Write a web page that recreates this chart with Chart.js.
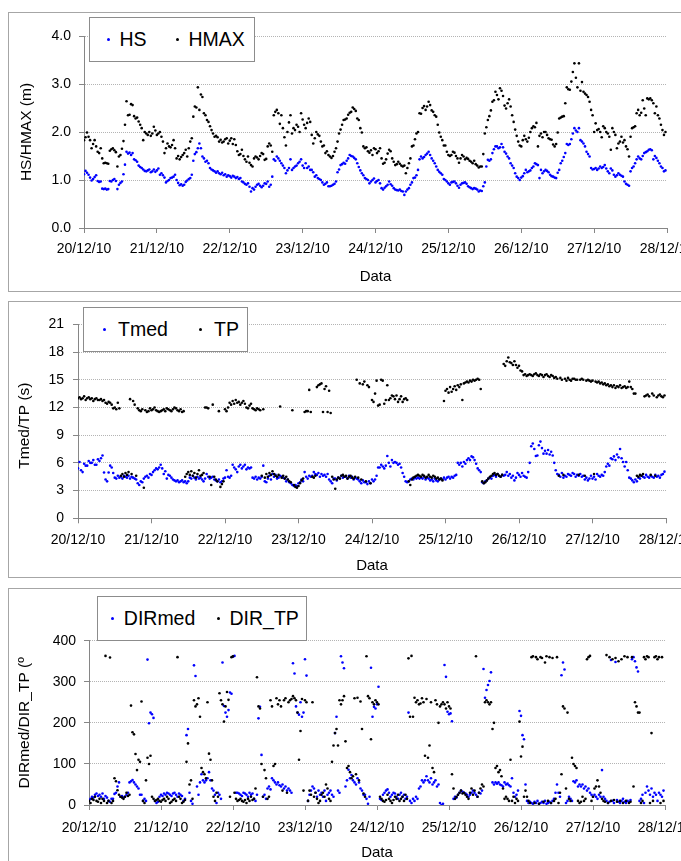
<!DOCTYPE html>
<html>
<head>
<meta charset="utf-8">
<script src="https://cdn.jsdelivr.net/npm/chart.js@4.4.1/dist/chart.umd.min.js"></script>
<style>
  html, body { margin: 0; padding: 0; overflow: hidden; background: #fff; width: 681px; height: 861px; }
  .panel { position: absolute; left: 8px; width: 720px; border: 1px solid #a6a6a6; box-sizing: border-box; }
  canvas { position: absolute; left: 0; z-index: 1; }
  .legend { position: absolute; background: #fff; border: 1px solid #8c8c8c; box-sizing: border-box;
            font: 19.5px "Liberation Sans", Arial, sans-serif; color: #000; z-index: 2; }
  .legend .dot { position: absolute; width: 3px; height: 3px; border-radius: 50%; top: 50%; margin-top: -1.5px; }
  .legend .lab { position: absolute; top: 50%; transform: translateY(-50%); line-height: 1; white-space: nowrap; }
</style>
</head>
<body>
<div class="panel" style="top:12px;height:280px"></div>
<div class="panel" style="top:301px;height:277px"></div>
<div class="panel" style="top:588px;height:300px"></div>

<canvas id="c1" width="720" height="277" style="top:13px"></canvas>
<canvas id="c2" width="720" height="276" style="top:302px"></canvas>
<canvas id="c3" width="720" height="275" style="top:589px"></canvas>

<div class="legend" style="left:89px;top:17px;width:166px;height:45px">
  <span class="dot" style="left:16.5px;background:#0000ff"></span><span class="lab" style="left:29.5px">HS</span>
  <span class="dot" style="left:85.5px;background:#000"></span><span class="lab" style="left:98.5px">HMAX</span>
</div>
<div class="legend" style="left:83px;top:307px;width:165px;height:45px">
  <span class="dot" style="left:18.8px;background:#0000ff"></span><span class="lab" style="left:34px">Tmed</span>
  <span class="dot" style="left:114.8px;background:#000"></span><span class="lab" style="left:130px">TP</span>
</div>
<div class="legend" style="left:97px;top:596px;width:210px;height:45px">
  <span class="dot" style="left:12.5px;background:#0000ff"></span><span class="lab" style="left:25.8px">DIRmed</span>
  <span class="dot" style="left:118.8px;background:#000"></span><span class="lab" style="left:131.5px">DIR_TP</span>
</div>

<script>
// half-hourly records from 20/12/10 00:00, x axis in hours
const STEP = 0.5;
const dayLabels = ['20/12/10', '21/12/10', '22/12/10', '23/12/10', '24/12/10',
                   '25/12/10', '26/12/10', '27/12/10', '28/12/10'];

const hs = [
  1.12, 1.19, 1.15, 1.11, 1.05, 0.99, 1.02, 1.06,
  1.10, 0.98, 0.96, 0.97, 0.82, 0.81, 0.82, 0.80,
  0.81, 0.98, 0.97, 1.00, 1.02, 0.98, 0.81, 0.90,
  0.94, 0.97, 1.12, 1.32, 1.59, 1.55, 1.57, 1.52,
  1.56, 1.43, 1.41, 1.38, 1.30, 1.27, 1.25, 1.22,
  1.19, 1.18, 1.20, 1.22, 1.16, 1.18, 1.22, 1.17,
  1.20, 1.24, 1.11, 1.14, 1.10, 1.05, 0.95, 0.98,
  1.00, 1.04, 1.05, 1.07, 1.11, 1.00, 0.94, 0.89,
  0.91, 0.88, 0.90, 0.96, 0.99, 1.02, 1.04, 1.11,
  1.40, 1.54, 1.58, 1.66, 1.76, 1.66, 1.49, 1.45,
  1.38, 1.40, 1.35, 1.25, 1.22, 1.20, 1.18, 1.15,
  1.18, 1.14, 1.12, 1.15, 1.10, 1.12, 1.07, 1.10,
  1.08, 1.05, 1.09, 1.07, 1.04, 1.06, 1.02, 1.04,
  0.97, 0.95, 0.92, 0.90, 0.93, 0.86, 0.76, 0.83,
  0.80, 0.86, 0.90, 0.92, 0.88, 0.85, 0.88, 0.93,
  0.92, 0.97, 0.86, 0.90, 1.07, 1.43, 1.40, 1.49,
  1.45, 1.40, 1.35, 1.30, 1.25, 1.14, 1.20, 1.25,
  1.43, 1.21, 1.25, 1.28, 1.30, 1.35, 1.38, 1.43,
  1.30, 1.25, 1.35, 1.25, 1.28, 1.21, 1.21, 1.16,
  1.07, 1.10, 1.04, 1.02, 1.00, 0.95, 0.90, 0.92,
  0.95, 0.87, 0.87, 0.88, 0.90, 0.92, 0.97, 1.16,
  1.22, 1.31, 1.33, 1.36, 1.34, 1.40, 1.45, 1.52,
  1.50, 1.49, 1.46, 1.43, 1.35, 1.27, 1.20, 1.14,
  1.10, 1.04, 1.02, 1.00, 0.93, 0.97, 1.00, 1.03,
  0.95, 0.98, 1.00, 0.93, 0.83, 0.80, 0.84, 0.87,
  0.90, 0.97, 0.91, 0.88, 0.83, 0.80, 0.79, 0.78,
  0.80, 0.77, 0.76, 0.69, 0.76, 0.80, 0.83, 0.90,
  0.95, 1.04, 1.05, 1.10, 1.21, 1.43, 1.49, 1.45,
  1.48, 1.52, 1.55, 1.59, 1.52, 1.45, 1.40, 1.35,
  1.28, 1.21, 1.17, 1.14, 1.11, 1.02, 1.00, 0.97,
  0.93, 0.90, 0.95, 0.96, 0.97, 0.93, 0.88, 0.84,
  0.90, 0.93, 0.94, 0.95, 0.92, 0.87, 0.85, 0.83,
  0.81, 0.83, 0.82, 0.80, 0.76, 0.78, 0.77, 0.87,
  0.95, 1.28, 1.42, 1.40, 1.43, 1.56, 1.64, 1.70,
  1.70, 1.66, 1.68, 1.75, 1.68, 1.59, 1.55, 1.49,
  1.45, 1.35, 1.30, 1.25, 1.14, 1.07, 1.04, 1.00,
  1.05, 1.08, 1.14, 1.21, 1.16, 1.18, 1.20, 1.25,
  1.28, 1.35, 1.33, 1.31, 1.04, 1.21, 1.14, 1.18,
  1.21, 1.19, 1.16, 1.11, 1.08, 1.07, 1.05, 1.04,
  1.15, 1.21, 1.35, 1.40, 1.48, 1.56, 1.75, 1.73,
  1.75, 1.85, 1.97, 2.08, 2.03, 2.00, 2.08, 1.83,
  1.80, 1.76, 1.70, 1.59, 1.54, 1.49, 1.25, 1.22,
  1.23, 1.25, 1.21, 1.24, 1.28, 1.25, 1.27, 1.31,
  1.24, 1.18, 1.14, 1.24, 1.20, 1.11, 1.07, 1.10,
  1.14, 1.11, 1.09, 1.07, 0.97, 0.92, 0.90, 0.88,
  1.18, 1.25, 1.28, 1.35, 1.43, 1.49, 1.45, 1.43,
  1.50, 1.56, 1.58, 1.60, 1.63, 1.64, 1.62, 1.43,
  1.50, 1.46, 1.40, 1.35, 1.28, 1.25, 1.18, 1.20
];

const hmax = [
  1.83, 1.89, 1.99, 1.90, 1.83, 1.66, 1.75, 1.83,
  1.70, 1.59, 1.56, 1.66, 1.45, 1.35, 1.36, 1.35,
  1.34, 1.61, 1.64, 1.66, 1.62, 1.58, 1.28, 1.49,
  1.52, 1.65, 1.81, 2.15, 2.64, 2.35, 2.36, 2.58,
  2.56, 2.33, 2.28, 2.30, 2.22, 2.15, 2.08, 1.83,
  2.00, 1.97, 1.94, 2.00, 1.92, 1.97, 2.11, 2.03,
  1.94, 1.97, 2.00, 1.90, 1.80, 1.56, 1.66, 1.76,
  1.70, 1.68, 1.73, 1.83, 1.66, 1.45, 1.50, 1.43,
  1.48, 1.52, 1.56, 1.63, 1.49, 1.66, 1.80, 1.87,
  2.32, 2.53, 2.51, 2.93, 2.46, 2.78, 2.73, 2.39,
  2.35, 2.25, 2.21, 2.12, 2.04, 1.97, 1.90, 1.92,
  1.89, 1.80, 1.84, 1.78, 1.80, 1.85, 1.87, 1.76,
  1.82, 1.87, 1.75, 1.85, 1.73, 1.60, 1.52, 1.54,
  1.63, 1.50, 1.43, 1.38, 1.49, 1.36, 1.31, 1.28,
  1.45, 1.49, 1.47, 1.43, 1.50, 1.56, 1.54, 1.42,
  1.44, 1.70, 1.76, 1.72, 1.59, 2.35, 2.42, 2.46,
  2.39, 2.17, 2.35, 2.08, 1.89, 1.72, 2.00, 2.20,
  2.35, 1.97, 2.08, 2.04, 2.15, 2.11, 2.00, 2.39,
  2.26, 2.15, 2.08, 2.19, 2.28, 2.21, 1.94, 1.76,
  1.87, 2.00, 1.95, 1.92, 1.80, 1.70, 1.72, 1.56,
  1.60, 1.52, 1.49, 1.46, 1.50, 1.59, 1.66, 1.80,
  1.97, 2.05, 2.15, 2.25, 2.26, 2.28, 2.36, 2.40,
  2.42, 2.51, 2.48, 2.44, 2.28, 2.25, 2.08, 1.99,
  1.70, 1.66, 1.68, 1.60, 1.57, 1.62, 1.52, 1.66,
  1.64, 1.56, 1.60, 1.66, 1.45, 1.34, 1.36, 1.43,
  1.55, 1.63, 1.60, 1.45, 1.38, 1.31, 1.33, 1.38,
  1.34, 1.30, 1.28, 1.30, 1.14, 1.25, 1.35, 1.45,
  1.70, 1.72, 1.85, 1.97, 2.00, 2.39, 2.38, 2.50,
  2.54, 2.46, 2.53, 2.63, 2.56, 2.45, 2.42, 2.35,
  2.32, 2.15, 1.99, 1.90, 1.83, 1.72, 1.72, 1.59,
  1.52, 1.50, 1.52, 1.59, 1.57, 1.50, 1.45, 1.36,
  1.45, 1.52, 1.49, 1.43, 1.46, 1.44, 1.40, 1.38,
  1.35, 1.40, 1.33, 1.30, 1.26, 1.28, 1.28, 1.54,
  1.97, 2.10, 2.25, 2.33, 2.45, 2.63, 2.66, 2.84,
  2.77, 2.68, 2.91, 2.86, 2.75, 2.55, 2.49, 2.60,
  2.68, 2.53, 2.35, 2.21, 2.05, 1.92, 1.80, 1.72,
  1.70, 1.83, 1.92, 1.85, 1.80, 1.88, 2.00, 2.08,
  2.12, 2.10, 2.19, 1.70, 1.92, 1.97, 1.89, 2.00,
  2.00, 1.94, 1.87, 1.85, 1.84, 1.74, 1.70, 1.75,
  1.99, 2.28, 2.30, 2.32, 2.33, 2.60, 2.93, 2.89,
  2.88, 3.05, 3.25, 3.43, 3.13, 2.93, 3.43, 2.86,
  3.04, 2.84, 2.80, 2.77, 2.73, 2.63, 2.46, 2.35,
  2.00, 2.18, 2.04, 2.06, 2.00, 1.89, 2.12, 2.08,
  2.00, 1.97, 1.90, 1.63, 2.08, 2.00, 1.94, 1.66,
  1.76, 1.80, 1.90, 1.78, 1.83, 1.70, 1.64, 1.49,
  1.90, 2.08, 2.10, 2.12, 2.39, 2.46, 2.35, 2.40,
  2.66, 2.49, 2.35, 2.70, 2.68, 2.70, 2.66, 2.60,
  2.39, 2.53, 2.35, 2.28, 2.15, 2.04, 1.94, 2.00
];

const tmed = [
  5.4, 6.1, 5.2, 5.0, 5.9, 5.7, 5.7, 6.2,
  6.0, 6.0, 6.3, 5.8, 5.8, 6.4, 6.2, 6.5,
  6.8, 4.95, 4.2, 4.0, 4.95, 5.7, 5.5, 4.9,
  4.4, 4.3, 4.6, 4.4, 4.5, 4.3, 4.6, 4.5,
  4.4, 4.6, 4.3, 4.5, 4.4, 4.3, 4.2, 3.8,
  3.6, 4.0, 3.9, 4.3, 4.5, 4.6, 4.4, 4.8,
  4.7, 5.0, 5.2, 5.4, 5.3, 5.5, 5.8, 5.4,
  4.8, 5.1, 4.3, 4.7, 4.6, 4.4, 4.2, 4.1,
  4.0, 4.1, 3.9, 4.0, 4.1, 3.9, 4.0, 3.8,
  4.0, 4.4, 4.3, 4.6, 4.4, 4.2, 4.5, 4.3,
  4.4, 4.2, 4.0, 4.3, 4.8, 4.5, 4.3, 4.4,
  4.5, 4.2, 4.1, 4.0, 4.2, 3.9, 4.0, 4.3,
  4.4, 5.2, 4.5, 4.4, 4.6, 5.8, 5.5, 5.3,
  5.0, 5.6, 5.8, 5.4, 5.6, 5.8, 5.3, 5.5,
  5.4, 5.5, 4.4, 4.3, 4.5, 4.2, 4.4, 4.3,
  4.5, 5.7, 4.0, 3.9, 4.3, 4.6, 4.2, 4.8,
  4.5, 4.7, 4.3, 4.4, 4.6, 4.5, 4.4, 4.3,
  4.0, 4.2, 3.9, 3.8, 3.6, 3.5, 3.6, 3.5,
  3.8, 3.9, 4.2, 4.0, 5.0, 4.5, 4.3, 4.6,
  4.5, 4.6, 5.0, 4.8, 4.7, 4.9, 4.5, 4.8,
  4.6, 4.7, 4.5, 4.8, 4.2, 4.0, 3.8, 4.3,
  4.3, 4.1, 4.4, 4.3, 4.6, 4.4, 4.5, 4.5,
  4.3, 4.6, 4.4, 4.5, 4.2, 4.4, 4.3, 4.2,
  4.0, 3.8, 4.1, 3.9, 3.9, 3.7, 4.0, 3.8,
  4.2, 4.0, 4.2, 4.6, 5.5, 5.5, 5.8, 5.6,
  5.4, 5.7, 6.75, 6.0, 5.6, 6.3, 6.0, 6.1,
  6.0, 5.8, 5.9, 5.5, 4.9, 4.5, 4.0, 3.9,
  4.0, 4.2, 4.3, 4.2, 4.4, 4.3, 4.4, 4.3,
  4.4, 4.3, 4.5, 4.2, 4.4, 4.3, 4.1, 4.2,
  4.0, 4.3, 4.1, 4.0, 4.2, 4.3, 4.2, 4.4,
  4.2, 4.4, 4.5, 4.3, 4.5, 4.4, 4.6, 4.7,
  6.0, 5.8, 6.0, 5.6, 6.1, 5.9, 6.3, 6.5,
  6.3, 6.7, 6.6, 6.3, 5.9, 5.4, 5.2, 5.0,
  3.9, 3.8, 4.0, 4.1, 4.3, 4.4, 4.3, 4.6,
  4.7, 4.5, 4.8, 4.6, 4.5, 4.7, 4.6, 4.7,
  5.0, 4.6, 4.8, 4.4, 4.6, 4.1, 4.4, 4.9,
  4.7, 4.5, 4.9, 4.6, 4.5, 4.4, 5.0, 6.0,
  7.8, 8.1, 7.5, 6.75, 6.8, 7.9, 8.3, 7.6,
  7.0, 7.3, 7.0, 7.4, 6.9, 7.2, 6.8, 6.0,
  5.2, 4.8, 4.7, 4.5, 4.9, 4.4, 4.6, 4.5,
  4.8, 4.7, 4.6, 4.9, 4.8, 4.5, 4.7, 4.6,
  4.8, 4.5, 4.6, 4.2, 4.4, 4.1, 4.3, 4.6,
  4.3, 4.5, 4.2, 4.8, 4.6, 4.5, 4.7, 4.6,
  5.0, 5.6, 5.9, 5.7, 6.5, 6.4, 6.7, 6.3,
  6.9, 6.6, 7.5, 6.5, 6.1, 5.6, 6.1, 5.2,
  4.4, 4.3, 4.1, 3.9, 4.2, 4.0, 4.4, 4.3,
  4.6, 4.5, 4.4, 4.7, 4.5, 4.4, 4.6, 4.5,
  4.4, 4.7, 4.5, 4.6, 4.4, 4.7, 4.8, 5.05
];

const tp = [
  13.0, 13.1, 12.9, 13.0, 13.2, 12.8, 13.0, 13.1,
  12.9, 13.0, 12.7, 12.9, 13.0, 12.8, 12.8, 12.9,
  12.7, 12.8, 12.5, 12.4, 12.6, 12.5, 12.3, 11.9,
  12.0, 11.8, 12.5, 11.9, 4.6, 4.8, 4.5, 4.9,
  4.7, 5.0, 12.9, 4.8, 12.7, 12.3, 4.6, 11.9,
  11.7, 11.6, 11.8, 3.3, 11.7, 11.5, 11.6, 11.9,
  11.7, 11.8, 12.0, 11.7, 11.6, 11.5, 11.6, 11.7,
  11.8, 11.6, 11.9, 11.8, 11.7, 11.6, 11.8, 12.0,
  11.9, 11.7, 11.6, 11.8, 11.5, 11.6, 4.5, 4.8,
  5.0, 4.7, 5.1, 4.6, 4.9, 4.4, 4.8, 5.2,
  4.6, 4.7, 4.9, 12.0, 12.0, 11.9, 4.5, 3.6,
  12.3, 4.5, 4.2, 4.0, 11.6, 3.4, 3.7, 4.0,
  11.8, 11.6, 12.0, 12.5, 12.3, 12.7, 12.4, 12.8,
  12.5, 12.6, 12.3, 12.5, 12.7, 12.4, 12.0, 11.9,
  12.2, 12.4, 11.9, 11.8, 11.7, 11.9, 11.8, 11.7,
  4.6, 11.8, 4.4, 4.8, 4.5, 4.9, 4.7, 5.1,
  4.8, 4.6, 4.5, 4.7, 12.1, 4.4, 4.6, 4.3,
  4.5, 4.2, 4.0, 3.9, 11.7, 3.6, 3.4, 3.3,
  3.5, 3.8, 4.1, 4.3, 11.5, 11.6, 11.6, 13.9,
  11.5, 4.5, 4.4, 4.6, 14.2, 14.4, 14.5, 14.6,
  11.5, 14.0, 14.3, 11.5, 13.8, 11.4, 4.5, 4.2,
  3.2, 4.2, 4.4, 4.3, 4.6, 4.7, 4.5, 4.6,
  4.3, 4.5, 4.6, 4.4, 4.3, 4.5, 15.0, 4.4,
  14.6, 4.2, 14.5, 14.8, 4.0, 14.4, 14.2, 3.8,
  12.8, 12.6, 13.5, 14.9, 12.2, 12.3, 15.0, 14.9,
  12.4, 12.8, 14.4, 12.8, 13.0, 13.3, 13.2, 12.9,
  13.3, 12.6, 12.9, 13.2, 12.6, 12.9, 13.0, 12.8,
  4.0, 3.6, 4.2, 4.4, 4.5, 4.6, 4.7, 4.6,
  4.5, 4.7, 4.6, 4.4, 4.5, 4.7, 4.5, 4.4,
  4.6, 4.5, 4.3, 4.4, 4.2, 4.3, 4.1, 12.7,
  13.8, 14.0, 13.6, 14.2, 13.7, 14.0, 14.3, 13.9,
  14.4, 14.2, 14.5, 12.8, 14.6, 14.7, 14.8, 14.7,
  14.9, 14.8, 15.0, 14.9, 15.0, 15.1, 15.0, 14.0,
  4.0, 3.8, 3.9, 4.1, 4.3, 4.5, 4.6, 4.8,
  4.9, 4.7, 4.8, 4.6, 4.5, 4.7, 16.7, 16.5,
  17.0, 17.4, 16.9, 16.8, 16.6, 17.0, 16.6, 16.3,
  16.5, 16.0, 15.9, 15.5, 15.6, 15.4, 15.5, 15.6,
  15.5, 15.4, 15.6, 15.7, 15.5, 15.4, 15.6, 15.5,
  15.3, 15.5, 15.6, 15.4, 15.3, 15.5, 15.4, 15.2,
  15.3, 15.1, 4.6, 15.2, 15.0, 4.7, 15.1, 14.9,
  15.2, 15.0, 14.9, 15.1, 15.1, 15.0, 15.0, 4.7,
  15.0, 15.1, 15.0, 4.6, 14.9, 15.0, 14.9, 14.8,
  14.9, 4.8, 14.8, 14.7, 14.8, 14.6, 14.7, 14.5,
  14.6, 14.4, 14.5, 14.3, 14.4, 14.2, 14.4, 14.1,
  14.3, 14.2, 14.4, 14.1, 14.2, 14.3, 14.1, 14.2,
  14.8, 14.2, 14.0, 13.5, 13.5, 4.6, 4.5, 4.7,
  4.6, 4.8, 13.2, 13.3, 13.4, 13.2, 4.7, 13.5,
  13.3, 4.6, 13.1, 13.3, 13.4, 13.2, 13.1, 13.3
];

const dirMed = [
  12, 15, 20, 18, 25, 28, 22, 25,
  20, 28, 15, 22, 18, 10, 8, 15,
  15, 27, 30, 45, 55, 20, 22, 18,
  20, 25, 30, 55, 58, 61, 55, 50,
  45, 40, 25, 25, 10, 15, 10, 354,
  199, 225, 221, 212, 10, 5, 8, 20,
  25, 22, 28, 25, 30, 28, 25, 22,
  28, 30, 25, 20, 28, 25, 22, 10,
  15, 170, 185, 30, 10, 3, 340, 314,
  45, 25, 55, 75, 60, 55, 60, 65,
  80, 60, 40, 35, 25, 5, 30, 25,
  15, 347, 241, 225, 215, 231, 274, 271,
  361, 363, 30, 30, 28, 25, 22, 30,
  28, 25, 20, 30, 25, 28, 15, 10,
  25, 211, 239, 122, 20, 25, 15, 40,
  45, 38, 65, 60, 55, 50, 55, 48,
  45, 50, 40, 45, 35, 40, 35, 30,
  345, 320, 240, 225, 220, 250, 215, 225,
  355, 315, 10, 25, 35, 45, 40, 30,
  20, 35, 25, 30, 20, 35, 10, 25,
  30, 35, 25, 20, 175, 215, 35, 30,
  362, 347, 333, 45, 60, 86, 65, 73,
  60, 55, 50, 65, 55, 40, 35, 25,
  25, 15, 3, 20, 334, 215, 239, 235,
  245, 288, 15, 12, 25, 30, 35, 38,
  30, 20, 25, 30, 28, 20, 15, 25,
  30, 20, 25, 15, 20, 225, 10, 5,
  15, 10, 20, 15, 40, 45, 60, 55,
  60, 70, 60, 55, 65, 50, 55, 60,
  45, 50, 5, 0, 3, 341, 312, 227,
  221, 223, 204, 15, 20, 18, 25, 30,
  35, 32, 30, 28, 25, 20, 25, 30,
  35, 30, 25, 20, 30, 28, 35, 331,
  261, 280, 292, 302, 323, 55, 50, 55,
  52, 55, 50, 48, 45, 55, 50, 52,
  48, 45, 65, 30, 20, 25, 35, 229,
  217, 170, 160, 50, 10, 5, 8, 5,
  3, 8, 5, 10, 3, 5, 8, 5,
  10, 3, 5, 8, 5, 10, 15, 30,
  50, 30, 20, 316, 347, 330, 5, 10,
  20, 15, 10, 58, 55, 60, 45, 50,
  45, 50, 40, 45, 35, 40, 30, 25,
  20, 25, 20, 15, 25, 20, 85, 20,
  15, 10, 5, 8, 353, 10, 5, 348,
  12, 8, 5, 10, 15, 8, 5, 10,
  8, 12, 355, 360, 350, 335, 325, 10,
  15, 25, 5, 30, 45, 35, 25, 40,
  20, 30, 25, 10, 30, 25, 20, 35
];

const dirTp = [
  10, 5, 15, 12, 20, 10, 8, 15,
  5, 15, 10, 363, 5, 10, 359, 5,
  10, 65, 58, 36, 25, 20, 18, 15,
  20, 30, 22, 25, 242, 177, 172, 124,
  85, 110, 105, 252, 10, 5, 60, 115,
  100, 120, 20, 15, 10, 12, 15, 10,
  8, 12, 15, 10, 20, 15, 5, 8,
  12, 15, 10, 360, 20, 15, 5, 8,
  12, 105, 150, 50, 60, 15, 255, 240,
  245, 260, 215, 90, 80, 75, 65, 250,
  125, 110, 60, 20, 10, 30, 20, 272,
  255, 245, 203, 240, 275, 256, 20, 360,
  362, 30, 15, 10, 12, 15, 10, 8,
  12, 5, 15, 10, 20, 12, 15, 40,
  311, 240, 235, 100, 20, 85, 65, 15,
  20, 255, 240, 95, 100, 260, 245, 255,
  240, 35, 255, 260, 30, 250, 255, 258,
  265, 260, 255, 225, 110, 180, 258, 35,
  255, 250, 10, 35, 25, 250, 20, 30,
  15, 5, 10, 25, 30, 20, 50, 40,
  15, 10, 105, 145, 175, 185, 145, 255,
  245, 255, 265, 155, 90, 95, 80, 65,
  70, 260, 75, 261, 60, 252, 185, 28,
  20, 362, 265, 260, 160, 250, 245, 255,
  250, 245, 20, 15, 10, 8, 12, 25,
  15, 10, 5, 12, 20, 15, 25, 10,
  15, 20, 10, 25, 15, 357, 215, 363,
  215, 261, 250, 255, 245, 247, 260, 250,
  120, 258, 115, 145, 250, 90, 80, 255,
  245, 200, 240, 245, 250, 245, 235, 250,
  240, 235, 75, 40, 15, 20, 25, 30,
  35, 28, 30, 25, 20, 15, 30, 40,
  25, 35, 362, 20, 30, 40, 50, 45,
  250, 255, 250, 245, 250, 185, 200, 90,
  95, 80, 85, 70, 40, 15, 20, 15,
  10, 110, 10, 20, 5, 15, 10, 203,
  118, 142, 20, 35, 20, 10, 5, 360,
  362, 5, 360, 355, 3, 360, 358, 8,
  347, 362, 10, 360, 5, 358, 10, 15,
  360, 5, 30, 75, 240, 235, 40, 225,
  15, 10, 115, 100, 95, 90, 10, 5,
  8, 20, 10, 15, 355, 360, 363, 10,
  20, 40, 45, 60, 45, 30, 15, 10,
  8, 365, 5, 360, 10, 355, 12, 358,
  8, 350, 10, 355, 5, 362, 10, 360,
  5, 8, 360, 45, 250, 240, 225, 225,
  5, 10, 360, 355, 362, 360, 5, 175,
  10, 360, 362, 355, 360, 5, 360, 10
];

Chart.defaults.font.family = "'Liberation Sans', Arial, sans-serif";
Chart.defaults.color = '#000';

const AXIS = '#868686';
const GRID = '#b4b4b4';
const pts = vals => vals.map((v, i) => ({ x: i * STEP, y: v }));

function makeChart(id, c) {
  return new Chart(document.getElementById(id), {
    type: 'scatter',
    data: {
      datasets: [
        { label: c.names[0], data: pts(c.blue), backgroundColor: '#0000ff', pointRadius: 1.3, pointBorderWidth: 0, order: 1 },
        { label: c.names[1], data: pts(c.black), backgroundColor: '#000000', pointRadius: 1.3, pointBorderWidth: 0, order: 0 }
      ]
    },
    options: {
      responsive: false,
      animation: false,
      devicePixelRatio: 1,
      events: [],
      layout: { padding: { left: 0, top: c.top, right: 720 - c.right, bottom: c.padBottom } },
      plugins: { legend: { display: false }, tooltip: { enabled: false } },
      scales: {
        x: {
          type: 'linear', min: 0, max: 192,
          ticks: { stepSize: 24, autoSkip: false, maxRotation: 0, padding: c.xPad,
                   font: { size: 14 }, color: '#000', callback: v => dayLabels[v / 24] },
          grid: { drawOnChartArea: false, drawTicks: true, tickLength: 5, tickColor: AXIS },
          border: { color: AXIS, width: 1 },
          title: { display: true, text: 'Data', font: { size: 15 }, color: '#000', padding: 0 },
          afterFit: s => { s.height = c.xHeight; s.paddingLeft = 0; s.paddingRight = 0; }
        },
        y: {
          min: 0, max: c.ymax,
          ticks: { stepSize: c.step, padding: c.yPad, font: { size: 14 }, color: '#000', callback: c.fmt },
          grid: { color: ctx => (ctx.tick && ctx.tick.value === 0) ? 'rgba(0,0,0,0)' : GRID,
                  tickColor: AXIS, tickLength: 5, lineWidth: 1 },
          border: { color: AXIS, width: 1, dash: [1, 1] },
          title: { display: true, text: c.ytitle, font: { size: 15.5 }, color: '#000',
                   padding: { top: c.titleX - 9.3, bottom: 0 } },
          afterFit: s => { s.width = c.left; }
        }
      }
    }
  });
}

makeChart('c1', {
  names: ['HS', 'HMAX'], blue: hs, black: hmax,
  top: 23, left: 84, right: 667, padBottom: 4, xHeight: 58, xPad: 7.3, yPad: 8,
  ymax: 4, step: 1, fmt: v => v.toFixed(1), ytitle: 'HS/HMAX (m)', titleX: 27
});
makeChart('c2', {
  names: ['Tmed', 'TP'], blue: tmed, black: tp,
  top: 22.3, left: 78, right: 666, padBottom: 3, xHeight: 56.7, xPad: 8.3, yPad: 9,
  ymax: 21, step: 3, fmt: v => String(v), ytitle: 'Tmed/TP (s)  ', titleX: 25
});
makeChart('c3', {
  names: ['DIRmed', 'DIR_TP'], blue: dirMed, black: dirTp,
  top: 51.7, left: 89, right: 665, padBottom: 2, xHeight: 57, xPad: 9.9, yPad: 8,
  ymax: 400, step: 100, fmt: v => String(v), ytitle: 'DIRmed/DIR_TP (º', titleX: 25
});
</script>
</body>
</html>
